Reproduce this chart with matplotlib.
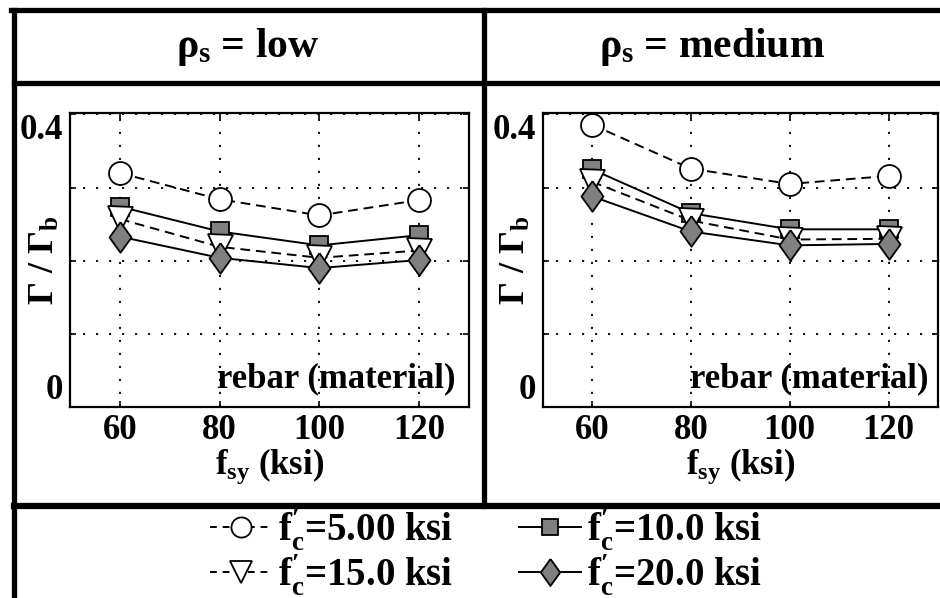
import matplotlib
matplotlib.use("Agg")
import matplotlib.pyplot as plt
from matplotlib.lines import Line2D

plt.rcParams['font.family'] = 'Liberation Serif'
plt.rcParams['font.weight'] = 'bold'
plt.rcParams['axes.labelweight'] = 'bold'
plt.rcParams['mathtext.fontset'] = 'custom'
plt.rcParams['mathtext.rm'] = 'Liberation Serif:bold'
plt.rcParams['mathtext.it'] = 'Liberation Serif:bold'
plt.rcParams['mathtext.bf'] = 'Liberation Serif:bold'

# data
fsy = [60, 80, 100, 120]
panels = [r"$\rho_\mathrm{s}$ = low", r"$\rho_\mathrm{s}$ = medium"]
series_labels = ["5.00", "10.0", "15.0", "20.0"]

low_f5 = [0.320, 0.284, 0.262, 0.283]
low_f10 = [0.274, 0.240, 0.221, 0.235]
low_f15 = [0.257, 0.219, 0.204, 0.214]
low_f20 = [0.233, 0.204, 0.190, 0.201]

med_f5 = [0.386, 0.326, 0.305, 0.316]
med_f10 = [0.325, 0.265, 0.243, 0.243]
med_f15 = [0.308, 0.255, 0.229, 0.230]
med_f20 = [0.288, 0.240, 0.221, 0.223]

panel_data = [[low_f5, low_f10, low_f15, low_f20],
              [med_f5, med_f10, med_f15, med_f20]]

# marker / line style per series
diamond = [(0, 1), (0.72, 0), (0, -1), (-0.72, 0), (0, 1)]
styles = [
    dict(marker='o', ms=16.5, mfc='white', ls='--'),
    dict(marker='s', ms=13, mfc='0.5', ls='-'),
    dict(marker='v', ms=18, mfc='white', ls='--'),
    dict(marker=diamond, ms=22, mfc='0.5', ls='-'),
]

fig = plt.figure(figsize=(9.4, 5.98), dpi=100)

axes_pos = [[0.0745, 0.3194, 0.4245, 0.4916],
            [0.5773, 0.3194, 0.4205, 0.4916]]
ylab_x = [-0.02, -0.025]
note_x = [0.967, 0.975]

handles = []
for k in range(2):
    ax = fig.add_axes(axes_pos[k])
    for i in range(4):
        st = styles[i]
        h, = ax.plot(fsy, panel_data[k][i], color='black', lw=1.4, ls=st['ls'],
                     dashes=(5, 3) if st['ls'] == '--' else (None, None),
                     marker=st['marker'], ms=st['ms'], mfc=st['mfc'], mec='black', mew=1.3,
                     label=r"$\mathrm{f}^{\prime}_{\mathrm{c}}$=" + series_labels[i] + " ksi")
        if k == 0:
            handles.append(h)
    ax.set_xlim(50, 130)
    ax.set_ylim(0, 0.402)
    ax.set_xticks(fsy)
    ax.set_yticks([0, 0.1, 0.2, 0.3, 0.4])
    ax.set_yticklabels(['0', '', '', '', '0.4'])
    ylabs = ax.get_yticklabels()
    ylabs[0].set_va('bottom')
    ylabs[4].set_va('top')
    ax.grid(True, color='black', lw=1.3, ls=(0, (1.2, 6)))
    ax.tick_params(direction='in', length=4, width=1.2, labelsize=25, pad=5,
                   top=True, right=True)
    ax.tick_params(axis='y', pad=5)
    for sp in ax.spines.values():
        sp.set_linewidth(1.6)
    ax.set_xlabel(r"$\mathrm{f}_{\mathrm{sy}}$ (ksi)", fontsize=25, labelpad=0)
    ax.set_ylabel(r"$\Gamma$ / $\Gamma_{\mathrm{b}}$", fontsize=26)
    ax.yaxis.set_label_coords(ylab_x[k], 0.5)
    ax.text(note_x[k], 0.04, "rebar (material)", transform=ax.transAxes,
            ha='right', va='bottom', fontsize=25)

# headers
fig.text(0.264, 0.922, panels[0], ha='center', va='center', fontsize=30)
fig.text(0.757, 0.922, panels[1], ha='center', va='center', fontsize=30)

# table borders
lw = 3.8
top_y = 1 - 9.5 / 598
left_x = 13.5 / 940
mid_x = 484 / 940
fig.add_artist(Line2D([left_x - 0.0027, 1], [top_y, top_y], color='black', lw=lw))
fig.add_artist(Line2D([left_x, left_x], [0, top_y], color='black', lw=lw))
fig.add_artist(Line2D([left_x, 1], [1 - 83 / 598, 1 - 83 / 598], color='black', lw=lw))
fig.add_artist(Line2D([left_x, 1], [1 - 506 / 598, 1 - 506 / 598], color='black', lw=4.5))
fig.add_artist(Line2D([mid_x, mid_x], [1 - 506 / 598, top_y], color='black', lw=lw))

# legend, column-major order
order = [handles[0], handles[2], handles[1], handles[3]]
leg = fig.legend(order, [h.get_label() for h in order], ncol=2, frameon=False,
                 loc='center', bbox_to_anchor=(0.517, 0.077), fontsize=28,
                 handlelength=1.6, handletextpad=0.15, columnspacing=1.7,
                 labelspacing=0.0, borderpad=0, markerscale=0.88)
for lh in leg.legend_handles:
    if lh.get_linestyle() == '--':
        lh.set_dashes((3.5, 3))

fig.savefig("out.png", dpi=100)
